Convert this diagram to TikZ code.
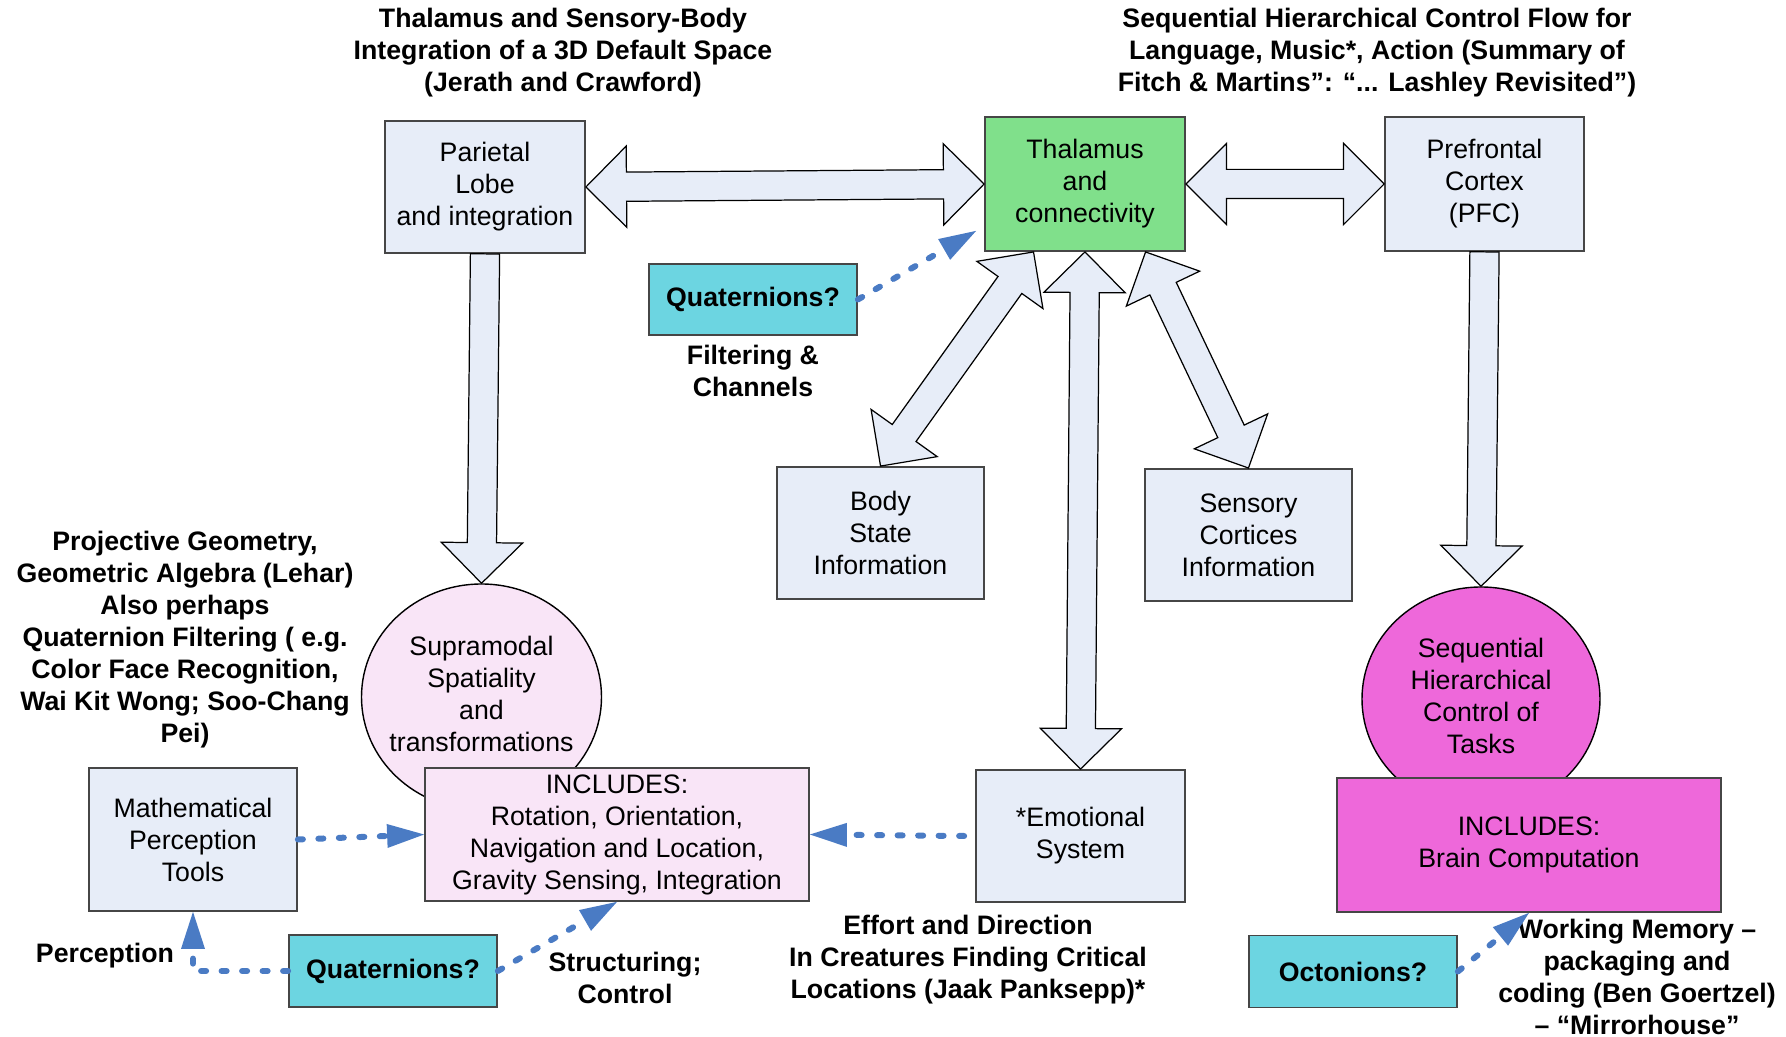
\documentclass[tikz,border=0pt]{standalone}
\usepackage{fontspec}
\setmainfont{Liberation Sans}
\usetikzlibrary{shapes.geometric,shapes.arrows,arrows.meta,calc}
\definecolor{boxfill}{RGB}{231,237,248}
\definecolor{thalgreen}{RGB}{128,224,139}
\definecolor{qcyan}{RGB}{108,213,225}
\definecolor{palepink}{RGB}{249,229,247}
\definecolor{hotpink}{RGB}{238,104,218}
\definecolor{flowblue}{RGB}{74,123,196}
\definecolor{edge}{RGB}{70,70,70}
\tikzset{
  txt/.style={align=center, inner sep=0pt, font=\fontsize{7.6}{9.1}\selectfont},
  box/.style={txt, rectangle, draw=edge, line width=0.5pt, fill=boxfill,
    minimum width=2.07cm, minimum height=1.32cm},
  qbox/.style={box, fill=qcyan, minimum width=2.08cm, minimum height=0.72cm,
    font=\fontsize{7.6}{9.1}\selectfont\bfseries},
  blob/.style={ellipse, draw=black, line width=0.4pt, inner sep=0pt},
  note/.style={txt, font=\fontsize{7.6}{9.1}\selectfont\bfseries},
  hollow/.style={draw=black, line width=0.35pt, fill=boxfill, inner xsep=0pt,
    inner ysep=0.14cm, outer sep=0pt},
  flow/.style={draw=flowblue, line width=0.06cm, line cap=round,
    dash pattern=on 0.05cm off 0.155cm,
    -{Triangle[length=0.37cm, width=0.24cm, line width=0pt]}}
}
% wide hollow arrows, both ends / one end
\newcommand{\twoway}[2]{
\path let \p1 = ($(#2)-(#1)$), \n1 = {veclen(\x1,\y1)}, \n2 = {atan2(\y1,\x1)} in
  node[hollow, double arrow, double arrow head extend=0.26cm, double arrow tip angle=90,
       minimum height=\n1, rotate=\n2] at ($(#1)!0.5!(#2)$) {};
}
\newcommand{\oneway}[2]{
\path let \p1 = ($(#2)-(#1)$), \n1 = {veclen(\x1,\y1)}, \n2 = {atan2(\y1,\x1)} in
  node[hollow, single arrow, single arrow head extend=0.26cm, single arrow tip angle=90,
       minimum height=\n1, rotate=\n2, anchor=tail] at (#1) {};
}
\begin{document}
\begin{tikzpicture}[x=1cm, y=-1cm]
\useasboundingbox (0,0) rectangle (17.86,10.37);

% ovals first, the INCLUDES boxes lie over them
\node[blob, fill=palepink, minimum width=2.40cm, minimum height=2.26cm] (supra) at (4.815,6.97) {};
\node[txt] (supratext) at (4.815,6.94) {Supramodal\\Spatiality\\and\\transformations};
\node[blob, fill=hotpink, minimum width=2.38cm, minimum height=2.24cm] (seq) at (14.81,6.99) {};
\node[txt] (seqtext) at (14.81,6.96) {Sequential\\Hierarchical\\Control of\\Tasks};

\node[box, minimum width=2.00cm] (par) at (4.85,1.87) {Parietal\\Lobe\\and integration};
\node[box, fill=thalgreen, minimum width=2.00cm, minimum height=1.34cm] (thal) at (10.85,1.84) {Thalamus\\and\\connectivity};
\node[box, minimum width=1.99cm, minimum height=1.34cm] (pfc) at (14.845,1.84) {Prefrontal\\Cortex\\(PFC)};
\node[qbox, minimum height=0.71cm] (qtop) at (7.53,2.995) {Quaternions?};
\node[box] (body) at (8.805,5.33) {Body\\State\\Information};
\node[box] (sens) at (12.485,5.35) {Sensory\\Cortices\\Information};
\node[box, fill=palepink, minimum width=3.84cm, minimum height=1.33cm] (incl) at (6.17,8.345)
  {INCLUDES:\\Rotation, Orientation,\\Navigation and Location,\\Gravity Sensing, Integration};
\node[box, minimum width=2.08cm, minimum height=1.43cm] (math) at (1.93,8.395) {Mathematical\\Perception\\Tools};
\node[qbox] (qbot) at (3.93,9.71) {Quaternions?};
\node[box, minimum width=2.09cm] (emo) at (10.805,8.36) {*Emotional\\System};
\node[box, fill=hotpink, minimum width=3.84cm, minimum height=1.34cm] (brain) at (15.29,8.45) {INCLUDES:\\Brain Computation};
\node[qbox] (octo) at (13.53,9.715) {Octonions?};

\node[note] (title1) at (5.63,0.53) {Thalamus and Sensory-Body\\Integration of a 3D Default Space\\(Jerath and Crawford)};
\node[note] (title2) at (13.77,0.53) {Sequential Hierarchical Control Flow for\\Language, Music*, Action (Summary of\\Fitch \& Martins”: “... Lashley Revisited”)};
\node[note] (filt) at (7.53,3.71) {Filtering \&\\Channels};
\node[note] (proj) at (1.85,6.40) {Projective Geometry,\\Geometric Algebra (Lehar)\\Also perhaps\\Quaternion Filtering ( e.g.\\Color Face Recognition,\\Wai Kit Wong; Soo-Chang\\Pei)};
\node[note] (perc) at (1.05,9.56) {Perception};
\node[note] (struct) at (6.25,9.78) {Structuring;\\Control};
\node[note] (effort) at (9.68,9.60) {Effort and Direction\\In Creatures Finding Critical\\Locations (Jaak Panksepp)*};
\node[note] (wm) at (16.37,9.77) {Working Memory –\\packaging and\\coding (Ben Goertzel)\\– “Mirrorhouse”};

\coordinate (tb) at ($(thal.south west)!0.245!(thal.south east)$);
\coordinate (ts) at ($(thal.south west)!0.8!(thal.south east)$);
\twoway{par.east}{thal.west}
\twoway{thal.east}{pfc.west}
\twoway{tb}{body.north}
\twoway{ts}{sens.north}
\twoway{thal.south}{emo.north}
\oneway{par.south}{supra.north}
\oneway{pfc.south}{seq.north}

\draw[flow] (qtop.east) -- ($(thal.south west)+(-0.08,-0.21)$);
\draw[flow] (math.east) -- (incl.west);
\draw[flow] ($(emo.west)+(-0.11,0)$) -- (incl.east);
\draw[flow] (qbot.east) -- (incl.south);
\draw[flow] (qbot.west) -| (math.south);
\draw[flow] (octo.east) -- (brain.south);
\end{tikzpicture}
\end{document}
